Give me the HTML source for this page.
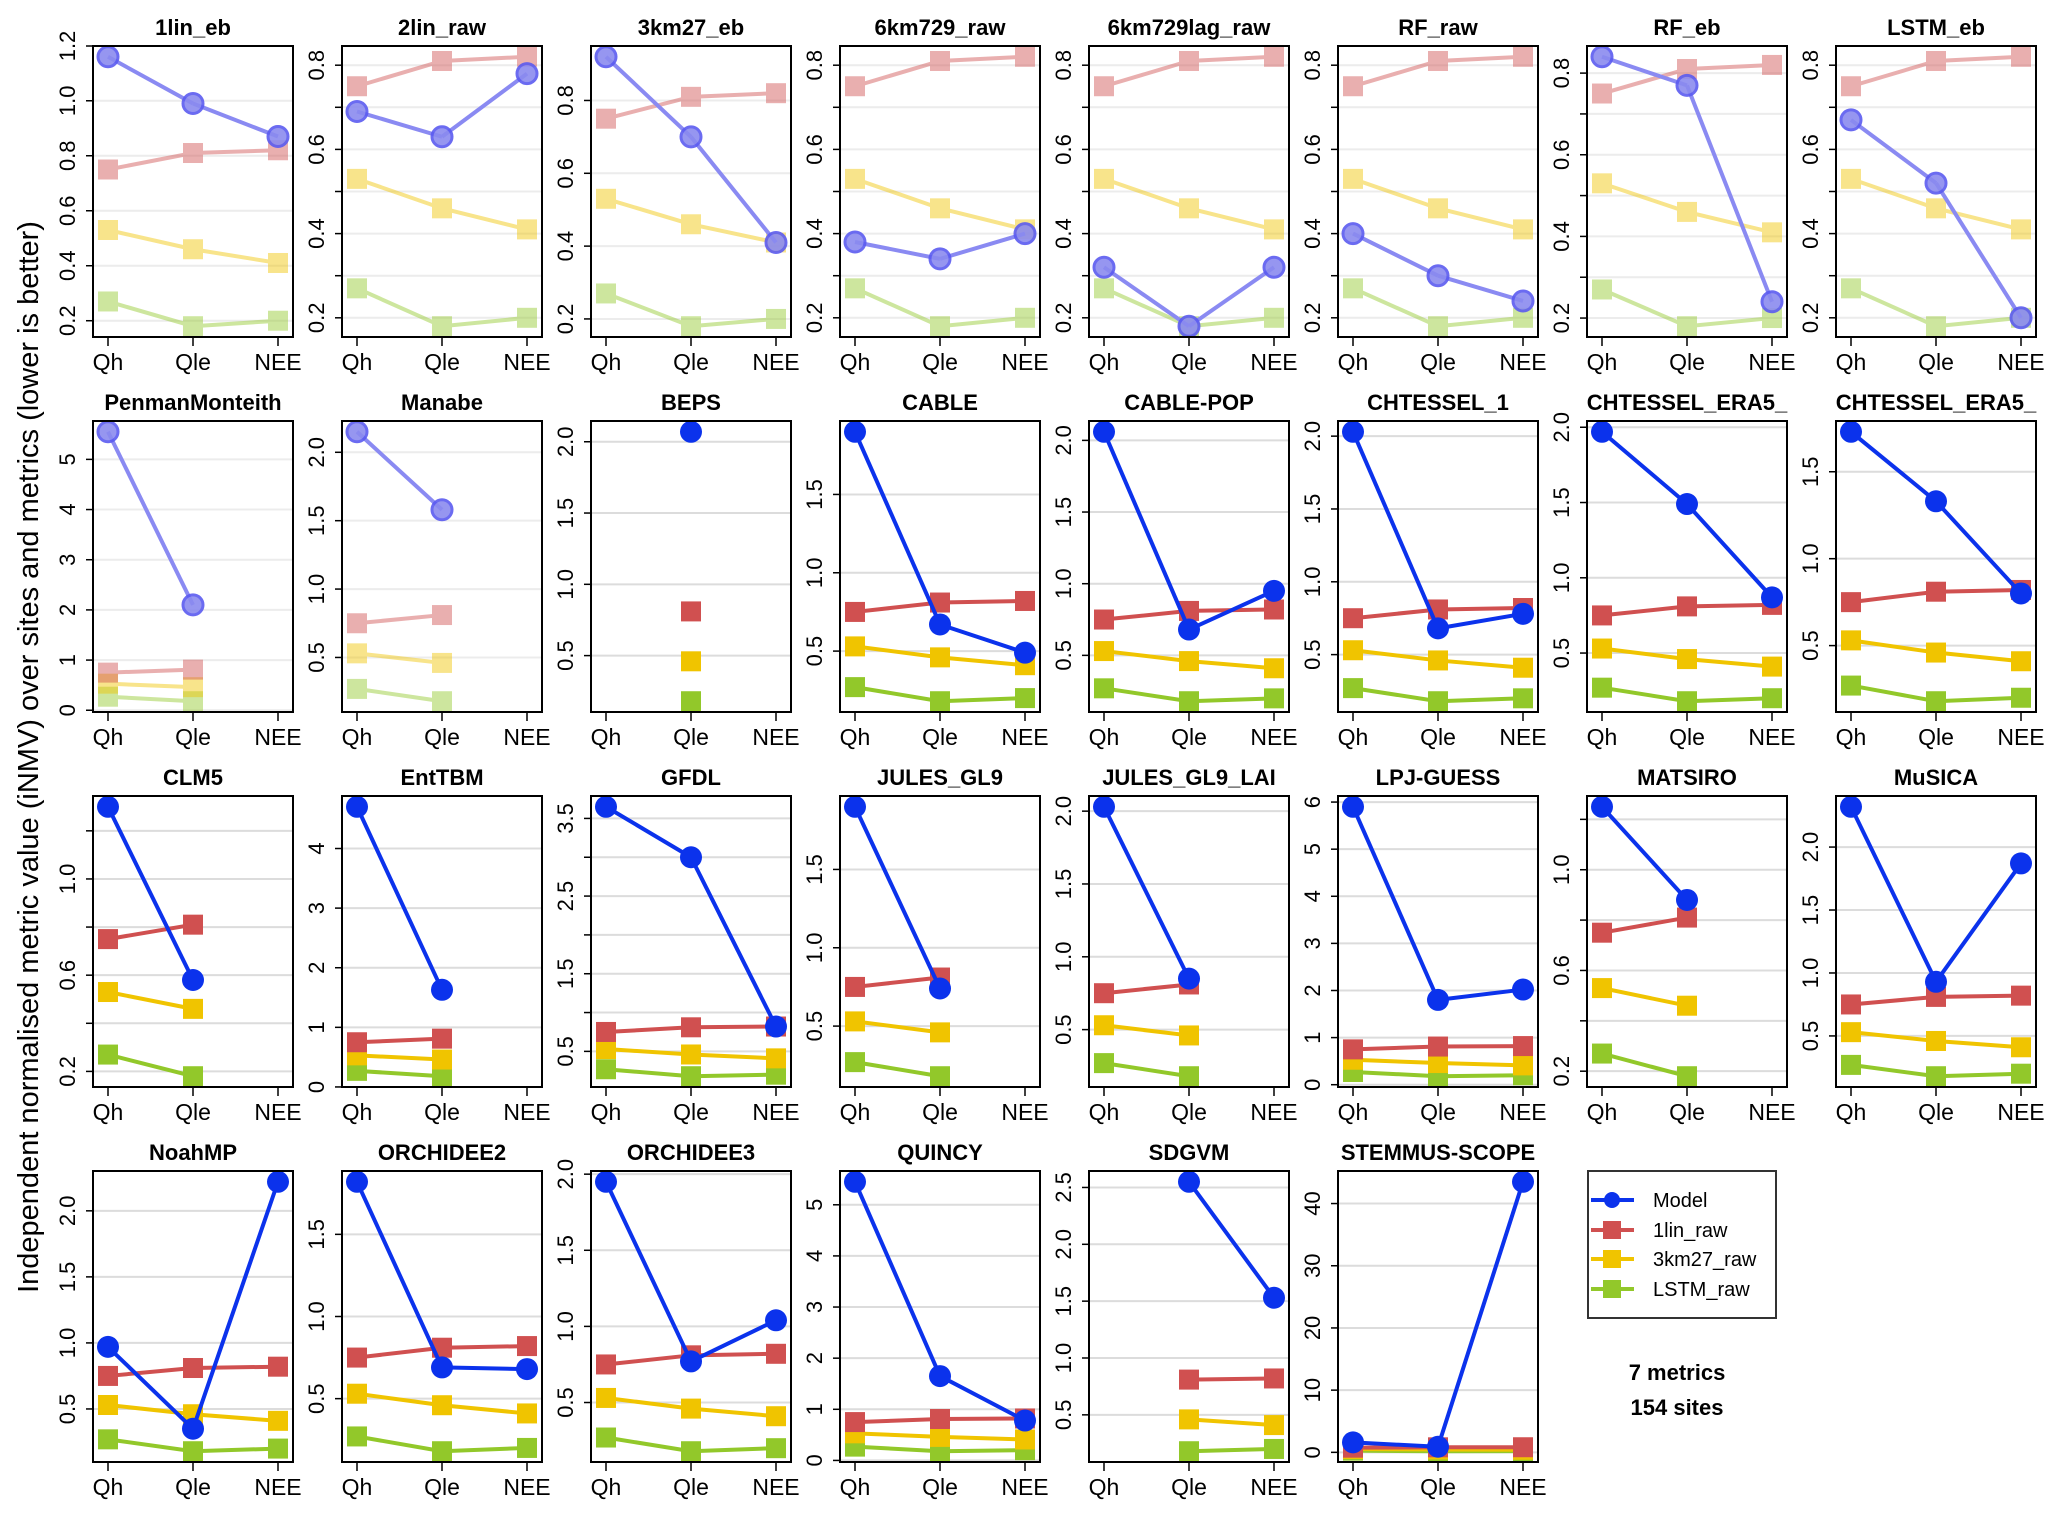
<!DOCTYPE html>
<html><head><meta charset="utf-8">
<style>
html,body{margin:0;padding:0;background:#fff;}
svg{display:block;font-family:"Liberation Sans",Arial,sans-serif;}
</style></head>
<body>
<svg id="fig" width="2067" height="1515" viewBox="0 0 2067 1515" xmlns="http://www.w3.org/2000/svg">
<rect x="0" y="0" width="2067" height="1515" fill="#fff"/>
<text transform="translate(38,757) rotate(-90)" text-anchor="middle" font-size="29" fill="#000">Independent normalised metric value (iNMV) over sites and metrics (lower is better)</text>
<g id="panels"></g>
<g>
<rect x="1588" y="1171" width="188" height="147" fill="#fff" stroke="#333" stroke-width="2"/>
<g><line x1="1591" y1="1200" x2="1634" y2="1200" stroke="#0b32ec" stroke-width="4"/><circle cx="1612" cy="1200" r="8" fill="#0b32ec"/><text x="1653" y="1207" font-size="20">Model</text></g>
<g><line x1="1591" y1="1230" x2="1634" y2="1230" stroke="#d05050" stroke-width="4"/><rect x="1603" y="1221" width="18" height="18" fill="#d05050"/><text x="1653" y="1237" font-size="20">1lin_raw</text></g>
<g><line x1="1591" y1="1259" x2="1634" y2="1259" stroke="#f0c400" stroke-width="4"/><rect x="1603" y="1250" width="18" height="18" fill="#f0c400"/><text x="1653" y="1266" font-size="20">3km27_raw</text></g>
<g><line x1="1591" y1="1289" x2="1634" y2="1289" stroke="#92c82a" stroke-width="4"/><rect x="1603" y="1280" width="18" height="18" fill="#92c82a"/><text x="1653" y="1296" font-size="20">LSTM_raw</text></g>
</g>
<text x="1677" y="1380" text-anchor="middle" font-size="22" font-weight="bold">7 metrics</text>
<text x="1677" y="1415" text-anchor="middle" font-size="22" font-weight="bold">154 sites</text>
</svg>
<script>
const metrics = ["Qh","Qle","NEE"];
const panelNames = ["1lin_eb","2lin_raw","3km27_eb","6km729_raw","6km729lag_raw","RF_raw","RF_eb","LSTM_eb",
 "PenmanMonteith","Manabe","BEPS","CABLE","CABLE-POP","CHTESSEL_1","CHTESSEL_ERA5_","CHTESSEL_ERA5_",
 "CLM5","EntTBM","GFDL","JULES_GL9","JULES_GL9_LAI","LPJ-GUESS","MATSIRO","MuSICA",
 "NoahMP","ORCHIDEE2","ORCHIDEE3","QUINCY","SDGVM","STEMMUS-SCOPE"];
const modelValues = [
 [1.16,0.99,0.87],[0.69,0.63,0.78],[0.92,0.70,0.41],[0.38,0.34,0.40],[0.32,0.18,0.32],[0.40,0.30,0.24],[0.84,0.77,0.24],[0.67,0.52,0.20],
 [5.55,2.10,null],[2.15,1.58,null],[null,2.07,null],[1.90,0.67,0.49],[2.06,0.68,0.95],[2.03,0.68,0.78],[1.97,1.49,0.87],[1.73,1.33,0.80],
 [1.30,0.58,null],[4.70,1.63,null],[3.65,3.00,0.82],[1.90,0.74,null],[2.03,0.85,null],[5.90,1.80,2.02],[1.25,0.88,null],[2.32,0.93,1.87],
 [0.97,0.35,2.22],[1.82,0.69,0.68],[1.95,0.77,1.04],[5.45,1.65,0.78],[null,2.55,1.53],[1.60,0.90,43.5]
];
const bench1linRaw = [0.75,0.81,0.82];
const bench3km27Raw = [0.53,0.46,0.41];
const benchLSTMRaw = [0.27,0.18,0.20];
const fadedPanelCount = 10;

const NS="http://www.w3.org/2000/svg";
const G=document.getElementById('panels');
function mk(tag,attrs,parent){const e=document.createElementNS(NS,tag);for(const k in attrs)e.setAttribute(k,attrs[k]);(parent||G).appendChild(e);return e;}
function pretty(lo,hi,n){
  const dx=hi-lo;const cell=dx/n;const U=Math.pow(10,Math.floor(Math.log10(cell)));
  let unit=U;const h=1.5,h5=0.5+1.5*h;
  if(2*U-cell<h*(cell-unit))unit=2*U;
  if(5*U-cell<h5*(cell-unit))unit=5*U;
  if(10*U-cell<h*(cell-unit))unit=10*U;
  const tol=dx*0.01;
  const t=[];for(let v=Math.ceil((lo-tol)/unit-1e-9)*unit;v<=hi+tol;v+=unit)t.push(Math.round(v/unit)*unit);
  return {ticks:t,unit:unit};
}
function fmt(v,unit){const d=unit>=1?0:Math.max(0,-Math.floor(Math.log10(unit)+1e-9));return v.toFixed(d);}
function labW(s,fs){let w=0;for(const c of s)w+=(c=='.'?0.278:0.556);return w*fs;}

const BOX_W=200,BOX_H=291,COL0=93,COLP=249,ROW0=46,ROWP=375;
const colors={m:"#0b32ec",r:"#d05050",y:"#f0c400",g:"#92c82a"};

panelNames.forEach((name,i)=>{
  const row=Math.floor(i/8),col=i%8;
  const bx=COL0+col*COLP,by=ROW0+row*ROWP;
  const faded=i<fadedPanelCount;
  const mv=modelValues[i];
  const pg=mk('g',{});
  
  
  const vals=[];
  const series=[[benchLSTMRaw,colors.g,'lstm-raw'],[bench3km27Raw,colors.y,'3km27-raw'],[bench1linRaw,colors.r,'1lin-raw']];
  metrics.forEach((m,j)=>{if(mv[j]!=null){vals.push(mv[j],bench1linRaw[j],bench3km27Raw[j],benchLSTMRaw[j]);}});
  let lo=Math.min(...vals),hi=Math.max(...vals);const pad=(hi-lo)*0.04;lo-=pad;hi+=pad;
  const ys=v=>by+BOX_H-(v-lo)/(hi-lo)*BOX_H;
  const xs=j=>bx+15+j*85;
  const cp=mk('clipPath',{id:'clip'+i},pg);mk('rect',{x:bx,y:by,width:BOX_W,height:BOX_H},cp);
  const pt=pretty(lo,hi,5.5);
  let lastLab=null;
  pt.ticks.forEach(t=>{
    const y=Math.max(by,Math.min(by+BOX_H,ys(t)));
    const gl=mk('line',{x1:bx,x2:bx+BOX_W,y1:y,y2:y,stroke:faded?"#ececec":"#dcdcdc","stroke-width":2},pg);
    
    
    const s=fmt(t,pt.unit);const w=labW(s,22);
    mk('line',{x1:bx-7,x2:bx,y1:y,y2:y,stroke:"#000","stroke-width":1.5},pg);
    const pos=-y;
    if(lastLab===null||pos-lastLab>=w+22){
      const tl=mk('text',{transform:`translate(${bx-18},${y}) rotate(-90)`,"text-anchor":"middle","font-size":22},pg);
      
      
      tl.textContent=s;lastLab=pos;
    }
  });
  const dg=mk('g',{'clip-path':`url(#clip${i})`},pg);
  series.forEach(([arr,c,sn])=>{
    const sg=mk('g',{opacity:faded?0.45:1},dg);
    
    
    const pts=[];metrics.forEach((m,j)=>{if(mv[j]!=null)pts.push([xs(j),ys(arr[j])]);});
    if(pts.length>1)mk('polyline',{points:pts.map(p=>p.join(',')).join(' '),fill:"none",stroke:c,"stroke-width":4},sg);
    pts.forEach(p=>{const r=mk('rect',{x:p[0]-10,y:p[1]-10,width:20,height:20,fill:c},sg);
      
      });
  });
  const mg=mk('g',{},dg);
  
  
  const mp=[];metrics.forEach((m,j)=>{if(mv[j]!=null)mp.push([xs(j),ys(mv[j])]);});
  const lc=faded?"#8a8af2":colors.m;
  for(let j=0;j<2;j++){if(mv[j]!=null&&mv[j+1]!=null)mk('line',{x1:xs(j),y1:ys(mv[j]),x2:xs(j+1),y2:ys(mv[j+1]),stroke:lc,"stroke-width":4},mg);}
  mp.forEach(p=>{const c=faded?mk('circle',{cx:p[0],cy:p[1],r:10,fill:"#8b8bef",stroke:"#5b5bf0","stroke-width":3,opacity:0.9},mg):mk('circle',{cx:p[0],cy:p[1],r:11,fill:colors.m},mg);
    
    });
  const b=mk('rect',{x:bx,y:by,width:BOX_W,height:BOX_H,fill:"none",stroke:"#000","stroke-width":2},pg);
  
  
  metrics.forEach((m,j)=>{
    mk('line',{x1:xs(j),x2:xs(j),y1:by+BOX_H,y2:by+BOX_H+9,stroke:"#000","stroke-width":1.5},pg);
    const t=mk('text',{x:xs(j),y:by+BOX_H+33,"text-anchor":"middle","font-size":23},pg);
    
    
    t.textContent=m;
  });
  const tcp=mk('clipPath',{id:'tclip'+i},pg);mk('rect',{x:bx-10,y:by-45,width:BOX_W+12,height:45},tcp);
  const tt=mk('text',{x:bx+BOX_W/2,y:by-11,"text-anchor":"middle","font-size":22,"font-weight":"bold","clip-path":`url(#tclip${i})`},pg);
  
  
  tt.textContent=name;
});
</script>
</body></html>
